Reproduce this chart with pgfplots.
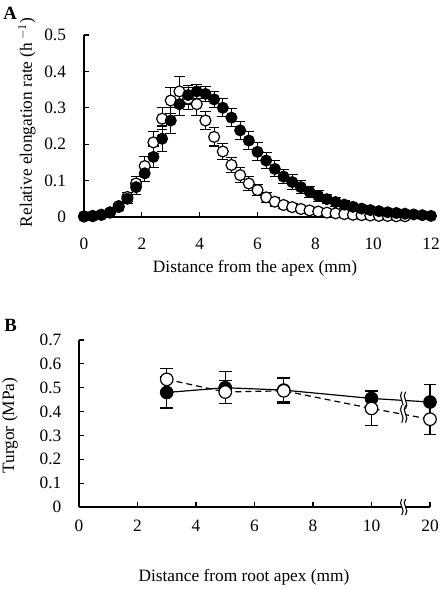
\documentclass[border=0pt]{standalone}
\usepackage{fontspec}
\setmainfont{Liberation Serif}
\usepackage{pgfplots}
\usepackage{pgfplotstable}
\pgfplotsset{compat=1.18}

\pgfplotstableread{
x y e
0.0 0.001 0.002
0.3 0.002 0.002
0.6 0.006 0.003
0.9 0.013 0.004
1.2 0.027 0.008
1.5 0.050 0.012
1.8 0.082 0.020
2.1 0.120 0.022
2.4 0.165 0.030
2.7 0.215 0.035
3.0 0.265 0.035
3.3 0.310 0.030
3.6 0.335 0.025
3.9 0.345 0.020
4.2 0.338 0.020
4.5 0.323 0.022
4.8 0.300 0.025
5.1 0.273 0.025
5.4 0.238 0.025
5.7 0.210 0.025
6.0 0.179 0.025
6.3 0.155 0.022
6.6 0.132 0.022
6.9 0.111 0.020
7.2 0.096 0.020
7.5 0.082 0.018
7.8 0.069 0.016
8.1 0.058 0.015
8.4 0.049 0.013
8.7 0.041 0.012
9.0 0.034 0.010
9.3 0.028 0.009
9.6 0.023 0.008
9.9 0.019 0.007
10.2 0.016 0.006
10.5 0.013 0.005
10.8 0.011 0.005
11.1 0.009 0.004
11.4 0.007 0.004
11.7 0.005 0.003
12.0 0.003 0.002
}\dataAfilled

\pgfplotstableread{
x y e
0.0 0.002 0.002
0.3 0.003 0.002
0.6 0.006 0.003
0.9 0.012 0.004
1.2 0.030 0.008
1.5 0.055 0.012
1.8 0.092 0.020
2.1 0.140 0.025
2.4 0.205 0.030
2.7 0.270 0.030
3.0 0.320 0.035
3.3 0.345 0.040
3.6 0.325 0.030
3.9 0.310 0.030
4.2 0.265 0.025
4.5 0.220 0.025
4.8 0.180 0.022
5.1 0.143 0.020
5.4 0.115 0.020
5.7 0.092 0.018
6.0 0.074 0.016
6.3 0.054 0.014
6.6 0.042 0.012
6.9 0.033 0.010
7.2 0.027 0.009
7.5 0.022 0.008
7.8 0.018 0.007
8.1 0.015 0.006
8.4 0.012 0.005
8.7 0.010 0.005
9.0 0.008 0.004
9.3 0.006 0.004
9.6 0.005 0.003
9.9 0.004 0.003
10.2 0.003 0.002
10.5 0.003 0.002
10.8 0.002 0.002
11.1 0.002 0.002
}\dataAopen

% panel B: x = 20 mm plotted at 12 (broken axis)
\pgfplotstableread{
x y e
3 0.480 0.065
5 0.500 0.068
7 0.490 0.050
10 0.455 0.035
12 0.440 0.072
}\dataBfilled

\pgfplotstableread{
x y e
3 0.535 0.045
5 0.482 0.050
7 0.487 0.055
10 0.413 0.070
12 0.368 0.066
}\dataBopen

\pgfplotsset{
  myax/.style={
    scale only axis,
    axis lines*=left,
    axis line style={-, line width=0.9pt},
    tick align=inside,
    major tick length=4pt,
    every tick/.style={black, line width=0.9pt},
    tick label style={font=\fontsize{13}{15}\selectfont},
    /pgf/number format/assume math mode=true,
    clip=false,
  },
  filledser/.style 2 args={black, mark=*, mark size=#1, mark options={solid, fill=black, line width=0.8pt},
    error bars/.cd, y dir=both, y explicit,
    error bar style={solid, line width=0.8pt},
    error mark options={rotate=90, solid, mark size=#2, line width=0.8pt}},
  openser/.style 2 args={black, mark=*, mark size=#1, mark options={solid, fill=white, line width=0.9pt},
    error bars/.cd, y dir=both, y explicit,
    error bar style={solid, line width=0.8pt},
    error mark options={rotate=90, solid, mark size=#2, line width=0.8pt}},
}

\newcommand\brk[2]{%
  \begin{scope}[shift={(#1)}]
    \fill[white] (-1.4pt,-#2) .. controls (2pt,-#2*0.4) and (-4.8pt,#2*0.4) .. (-1.4pt,#2)
      -- (1.4pt,#2) .. controls (-2pt,#2*0.4) and (4.8pt,-#2*0.4) .. (1.4pt,-#2) -- cycle;
    \draw[line width=0.8pt] (-1.4pt,-#2) .. controls (2pt,-#2*0.4) and (-4.8pt,#2*0.4) .. (-1.4pt,#2);
    \draw[line width=0.8pt] (1.4pt,-#2) .. controls (4.8pt,-#2*0.4) and (-2pt,#2*0.4) .. (1.4pt,#2);
  \end{scope}}

\begin{document}
\begin{tikzpicture}
\useasboundingbox (0,0) rectangle (333pt,441.75pt);
\fontsize{13}{15}\selectfont

% ---------------- Panel A ----------------
\begin{axis}[myax, at={(63pt,279pt)}, anchor=south west,
  width=260.25pt, height=136.5pt,
  xmin=0, xmax=12, ymin=0, ymax=0.5,
  xtick={0,2,4,6,8,10,12},
  ytick={0,0.1,0.2,0.3,0.4,0.5},
  yticklabels={0,0.1,0.2,0.3,0.4,0.5},
  xticklabel style={yshift=-11pt},
  yticklabel style={xshift=-9pt}]
\addplot[only marks, openser={4.1pt}{4pt}] table[x=x, y=y, y error=e] {\dataAopen};
\addplot[only marks, filledser={4.1pt}{4pt}] table[x=x, y=y, y error=e] {\dataAfilled};
\end{axis}

\node[font=\fontsize{14}{16}\selectfont\bfseries] at (7.5pt,432pt) {A};
\node[rotate=90] at (20.25pt,350pt) {Relative elongation rate (h\,$^{-1}$)};
\node at (191.25pt,240.75pt) {Distance from the apex (mm)};

% ---------------- Panel B ----------------
\begin{axis}[myax, at={(59.25pt,61.5pt)}, anchor=south west,
  width=263.25pt, height=125.25pt,
  xmin=0, xmax=12, ymin=0, ymax=0.7,
  xtick={0,2,4,6,8,10,12},
  xticklabels={0,2,4,6,8,10,20},
  ytick={0,0.1,0.2,0.3,0.4,0.5,0.6,0.7},
  yticklabels={0,0.1,0.2,0.3,0.4,0.5,0.6,0.7},
  xticklabel style={yshift=-5.5pt},
  yticklabel style={xshift=-8.7pt}]
\addplot[line width=0.9pt, filledser={4.7pt}{4.8pt}] table[x=x, y=y, y error=e] {\dataBfilled};
\addplot[line width=0.9pt, dash pattern=on 4.5pt off 3pt, openser={4.7pt}{4.8pt}] table[x=x, y=y, y error=e] {\dataBopen};
\coordinate (b1) at (axis cs:11.1,0.447);
\coordinate (b2) at (axis cs:11.1,0.39);
\coordinate (b3) at (axis cs:11.1,0);
\end{axis}
\brk{b1}{6.5pt}
\brk{b2}{6.5pt}
\brk{b3}{6pt}

\node[font=\fontsize{14}{16}\selectfont\bfseries] at (7.9pt,198pt) {B};
\node[rotate=90] at (7.5pt,122.6pt) {Turgor (MPa)};
\node at (183pt,8.5pt) {Distance from root apex (mm)};
\end{tikzpicture}
\end{document}
